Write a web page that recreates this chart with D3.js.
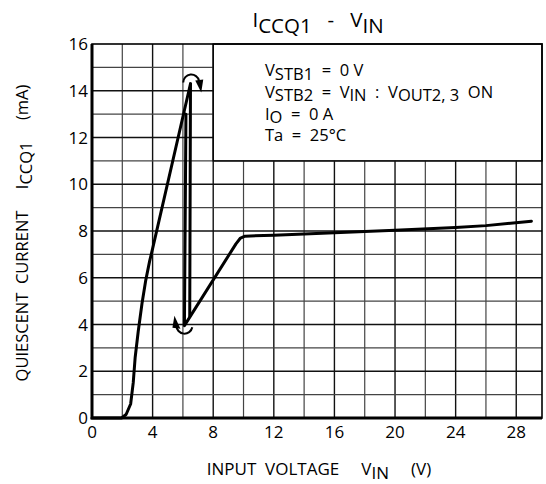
<!DOCTYPE html>
<html>
<head>
<meta charset="utf-8">
<script src="https://cdn.jsdelivr.net/npm/d3@7"></script>
<style>
  body { margin: 0; background: #fff; }
  svg { font-family: "Open Sans", "DejaVu Sans", sans-serif; }
</style>
</head>
<body>
<svg id="chart" width="546" height="484"></svg>
<script>
// up sweep: rising edge to the peak
var riseV = [0, 1.95, 2.25, 2.55, 2.72, 2.85, 3.05, 3.3, 3.55, 3.8, 4.0, 6.5];
var riseI = [0, 0, 0.15, 0.6, 1.5, 2.6, 3.7, 4.9, 5.9, 6.7, 7.25, 14.3];
// drop after the peak
var dropV = [6.5, 6.45];
var dropI = [14.3, 4.35];
// return path and the flat region
var mainV = [6.2, 6.1, 9.5, 9.8, 10.1, 12, 16, 20, 24, 26, 29];
var mainI = [13.0, 3.95, 7.45, 7.7, 7.78, 7.82, 7.92, 8.03, 8.15, 8.23, 8.42];
// arrow anchors (V, mA)
var arrowTop = [6.55, 14.35];
var arrowBottom = [6.1, 3.95];

var xTicks = [0, 4, 8, 12, 16, 20, 24, 28];
var yTicks = [0, 2, 4, 6, 8, 10, 12, 14, 16];
var legendLines = [
  [["V", 0], ["STB1", 1], ["  =  0 V", 0]],
  [["V", 0], ["STB2", 1], ["  =  V", 0], ["IN", 1], ["  :  V", 0], ["OUT2, 3", 1], ["  ON", 0]],
  [["I", 0], ["O", 1], ["  =  0 A", 0]],
  [["Ta  =  25°C", 0]]
];

var svg = d3.select('#chart');
var x = d3.scaleLinear().domain([0, 29.7]).range([92, 542]);
var y = d3.scaleLinear().domain([0, 16]).range([418, 44]);

// grid
var grid = svg.append('g');
grid.selectAll('.gx').data(d3.range(2, 29.7, 2)).enter().append('line')
  .attr('x1', (d) => x(d)).attr('x2', (d) => x(d))
  .attr('y1', y(0)).attr('y2', y(16))
  .attr('stroke', (d) => d % 4 == 0 ? '#111' : '#444')
  .attr('stroke-width', (d) => d % 4 == 0 ? 1.4 : 1.2);
grid.selectAll('.gy').data(d3.range(1, 16, 1)).enter().append('line')
  .attr('x1', x(0)).attr('x2', x(29.7))
  .attr('y1', (d) => y(d)).attr('y2', (d) => y(d))
  .attr('stroke', (d) => d % 2 == 0 ? '#111' : '#444')
  .attr('stroke-width', (d) => d % 2 == 0 ? 1.4 : 1.2);

// legend box hides the grid in the top right
svg.append('rect')
  .attr('x', x(8)).attr('y', y(16))
  .attr('width', x(29.7) - x(8)).attr('height', y(11) - y(16))
  .attr('fill', '#fff').attr('stroke', '#000').attr('stroke-width', 1.5);

// frame
svg.append('rect')
  .attr('x', x(0)).attr('y', y(16))
  .attr('width', x(29.7) - x(0)).attr('height', y(0) - y(16))
  .attr('fill', 'none').attr('stroke', '#000').attr('stroke-width', 1.6);
svg.append('path')
  .attr('d', 'M' + x(0) + ',' + y(16) + 'V' + y(0) + 'H' + x(29.7))
  .attr('fill', 'none').attr('stroke', '#000').attr('stroke-width', 3);

// tick labels
svg.selectAll('.xt').data(xTicks).enter().append('text')
  .attr('x', (d) => x(d)).attr('y', y(0) + 20)
  .attr('text-anchor', 'middle').attr('font-size', 17).text((d) => d);
svg.selectAll('.yt').data(yTicks).enter().append('text')
  .attr('x', x(0) - 4).attr('y', (d) => y(d) + 6)
  .attr('text-anchor', 'end').attr('font-size', 17).text((d) => d);

// curves
var line = d3.line().x((d) => x(d[0])).y((d) => y(d[1]));
var curves = [d3.zip(riseV, riseI), d3.zip(dropV, dropI), d3.zip(mainV, mainI)];
svg.append('g').selectAll('path').data(curves).enter().append('path')
  .attr('d', line)
  .attr('fill', 'none').attr('stroke', '#000').attr('stroke-width', 3)
  .attr('stroke-linejoin', 'round').attr('stroke-linecap', 'round');

// hysteresis arrows
var r = 8;
var cx = x(arrowTop[0]), cy = y(arrowTop[1]);
var p = d3.path();
p.arc(cx, cy, r, Math.PI, 2 * Math.PI - 0.2, false);
svg.append('path').attr('d', p.toString())
  .attr('fill', 'none').attr('stroke', '#000').attr('stroke-width', 2);
svg.append('path')
  .attr('d', 'M' + (cx + r - 4) + ',' + (cy - 2) + 'L' + (cx + r + 4) + ',' + (cy - 3) + 'L' + (cx + r + 2) + ',' + (cy + 10) + 'Z')
  .attr('fill', '#000');

var bx = x(arrowBottom[0]), by = y(arrowBottom[1]);
var q = d3.path();
q.arc(bx, by, r, 0.2, Math.PI, false);
svg.append('path').attr('d', q.toString())
  .attr('fill', 'none').attr('stroke', '#000').attr('stroke-width', 2);
svg.append('path')
  .attr('d', 'M' + (bx - r - 4) + ',' + (by + 2) + 'L' + (bx - r + 4) + ',' + (by + 3) + 'L' + (bx - r - 2) + ',' + (by - 10) + 'Z')
  .attr('fill', '#000');

// text with subscripts
function rich(sel, parts, size, shift) {
  var down = false;
  parts.forEach(function(pt) {
    var t = sel.append('tspan').text(pt[0]).style('white-space', 'pre');
    if (pt[1] && !down) { t.attr('dy', size * shift); down = true; }
    else if (!pt[1] && down) { t.attr('dy', -size * shift); down = false; }
  });
}

var leg = svg.append('g');
legendLines.forEach(function(parts, i) {
  var t = leg.append('text').attr('x', 265).attr('y', 76 + i * 21.8)
    .attr('font-size', 16.5).attr('xml:space', 'preserve');
  rich(t, parts, 16.5, 0.22);
});

var title = svg.append('text').attr('x', 318).attr('y', 27)
  .attr('text-anchor', 'middle').attr('font-size', 20.5).attr('xml:space', 'preserve');
rich(title, [["I", 0], ["CCQ1", 1], ["   -   V", 0], ["IN", 1]], 20.5, 0.3);

var xl = svg.append('text').attr('x', 319).attr('y', 475)
  .attr('text-anchor', 'middle').attr('font-size', 17).attr('xml:space', 'preserve');
rich(xl, [["INPUT  VOLTAGE     V", 0], ["IN", 1], ["     (V)", 0]], 17, 0.22);

var yl = svg.append('text')
  .attr('transform', 'translate(28,' + 233 + ') rotate(-90)')
  .attr('text-anchor', 'middle').attr('font-size', 16.5).attr('xml:space', 'preserve');
rich(yl, [["QUIESCENT  CURRENT     I", 0], ["CCQ1", 1], ["     (mA)", 0]], 16.5, 0.25);
</script>
</body>
</html>
